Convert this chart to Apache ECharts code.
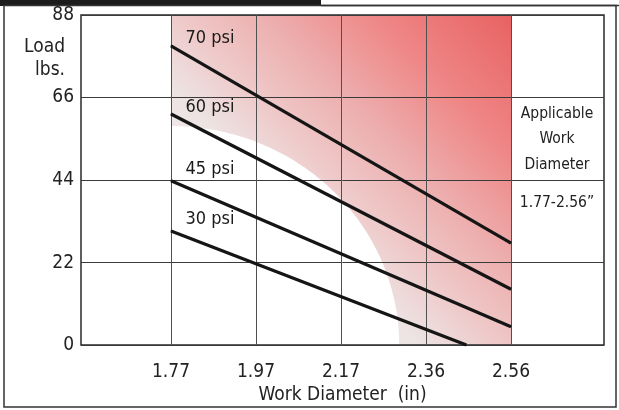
<!DOCTYPE html>
<html>
<head>
<meta charset="utf-8">
<script src="https://cdn.jsdelivr.net/npm/echarts@6/dist/echarts.min.js"></script>
<style>html,body{margin:0;padding:0;background:#fff}#c{width:619px;height:410px}</style>
</head>
<body>
<div id="c"></div>
<script>
// ---- data ----
const diameterTicks = [1.77, 1.97, 2.17, 2.36, 2.56];
const diameterTickLabels = ['1.77', '1.97', '2.17', '2.36', '2.56'];
const loadTicks = [0, 22, 44, 66, 88];
const pressureNames = ['70 psi', '60 psi', '45 psi', '30 psi'];
const psi70 = [[1.77, 79.8], [2.56, 27.2]];
const psi60 = [[1.77, 61.6], [2.56, 14.9]];
const psi45 = [[1.77, 43.8], [2.56, 4.9]];
const psi30 = [[1.77, 30.4], [2.455, 0]];
const applicableRange = [1.77, 2.56];
const lowLoadZone = [2.30, 58.4]; // diameter reach, load reach of the unshaded zone
const noteLines = ['Applicable', 'Work', 'Diameter'];
const noteRange = '1.77-2.56\u201D';
const xName = 'Work Diameter  (in)';
const yName = 'Load\nlbs.';

// ---- helpers ----
// tick labels are evenly spaced on the original chart: map diameter -> tick position
function toAxis(d) {
  const t = diameterTicks;
  for (let i = 0; i < t.length - 1; i++) {
    if (d <= t[i + 1] || i === t.length - 2) {
      return i + (d - t[i]) / (t[i + 1] - t[i]);
    }
  }
  return 0;
}
const FONT = "'Liberation Sans Narrow', 'DejaVu Sans Condensed', 'Roboto', sans-serif";
const series = [psi70, psi60, psi45, psi30];
const labelDy = [-7, -6, -11, -11];

const chart = echarts.init(document.getElementById('c'), null, { renderer: 'canvas' });

const lineSeries = series.map((pts, k) => ({
  type: 'line',
  z: 3,
  symbol: 'circle',
  symbolSize: 1,
  showSymbol: true,
  silent: true,
  animation: false,
  itemStyle: { color: '#151515' },
  lineStyle: { color: '#151515', width: 3.2 },
  data: pts.map((p, i) => {
    const item = { value: [toAxis(p[0]), p[1]] };
    if (i === 0) {
      item.label = {
        show: true, formatter: pressureNames[k], position: [15, labelDy[k]],
        align: 'left', verticalAlign: 'middle', fontFamily: FONT, fontSize: 18, color: '#1a1a1a'
      };
    }
    return item;
  })
}));

const zoneSeries = {
  type: 'custom',
  z: -1,
  silent: true,
  animation: false,
  data: [[0]],
  renderItem: function (params, api) {
    const tl = api.coord([toAxis(applicableRange[0]), loadTicks[loadTicks.length - 1]]);
    const br = api.coord([toAxis(applicableRange[1]), 0]);
    const c = api.coord([toAxis(applicableRange[0]), 0]);
    const e = api.coord([toAxis(lowLoadZone[0]), lowLoadZone[1]]);
    const rx = e[0] - c[0], ry = c[1] - e[1];
    const pts = [[c[0], c[1]]];
    for (let i = 0; i <= 80; i++) {
      const t = i / 80 * Math.PI / 2;
      pts.push([c[0] + rx * Math.cos(t), c[1] - ry * Math.sin(t)]);
    }
    return {
      type: 'group',
      children: [
        {
          type: 'rect',
          shape: { x: tl[0], y: tl[1], width: br[0] - tl[0], height: br[1] - tl[1] },
          style: {
            fill: new echarts.graphic.LinearGradient(0, 1, 1, 0, [
              { offset: 0, color: '#f6f6f6' },
              { offset: 0.38, color: '#ede3e3' },
              { offset: 0.5, color: '#efc8c8' },
              { offset: 0.62, color: '#edb0b0' },
              { offset: 0.8, color: '#ef8585' },
              { offset: 1, color: '#e86262' }
            ])
          }
        },
        { type: 'polygon', shape: { points: pts }, style: { fill: '#ffffff' } }
      ]
    };
  }
};

const tickPos = diameterTicks.map(toAxis);

chart.setOption({
  animation: false,
  grid: {
    left: 81, top: 15, right: 15, bottom: 62,
    show: true, borderColor: '#2a2a2a', borderWidth: 1.5, backgroundColor: 'transparent'
  },
  xAxis: {
    type: 'value',
    min: (81 - 171) / 85,
    max: (604 - 171) / 85,
    axisLine: { show: false },
    axisTick: { show: false, customValues: tickPos },
    axisLabel: {
      customValues: tickPos,
      formatter: v => diameterTickLabels[Math.round(v)],
      fontFamily: FONT, fontSize: 19, color: '#222', margin: 17
    },
    splitLine: { show: true, lineStyle: { color: '#505050', width: 1 } },
    name: xName,
    nameLocation: 'middle',
    nameGap: 39,
    nameTextStyle: { fontFamily: FONT, fontSize: 19, color: '#222' }
  },
  yAxis: {
    type: 'value',
    min: 0, max: 88, interval: 22,
    axisLine: { show: false },
    axisTick: { show: false },
    axisLabel: { fontFamily: FONT, fontSize: 19, color: '#222', margin: 7 },
    splitLine: { show: true, lineStyle: { color: '#3a3a3a', width: 1 } }
  },
  graphic: [
    { type: 'rect', silent: true, shape: { x: 0, y: 0, width: 321, height: 6 }, style: { fill: '#1c1c1c' }, z: 10 },
    { type: 'line', silent: true, shape: { x1: 321, y1: 5.5, x2: 619, y2: 5.5 }, style: { stroke: '#333', lineWidth: 1.5 }, z: 10 },
    { type: 'rect', silent: true, shape: { x: 4, y: 5.5, width: 612, height: 401.5 }, style: { fill: 'none', stroke: '#333', lineWidth: 1.5 }, z: 10 },
    { type: 'text', silent: true, x: 65, y: 36, style: { text: yName, align: 'right', verticalAlign: 'top', fontFamily: FONT, fontSize: 19, lineHeight: 23, fill: '#222' }, z: 10 },
    { type: 'text', silent: true, x: 557, y: 101, style: { text: noteLines.join('\n'), align: 'center', verticalAlign: 'top', fontFamily: FONT, fontSize: 15.5, lineHeight: 25.5, fill: '#222' }, z: 10 },
    { type: 'text', silent: true, x: 557, y: 203, style: { text: noteRange, align: 'center', verticalAlign: 'middle', fontFamily: FONT, fontSize: 15.5, fill: '#222' }, z: 10 }
  ],
  series: [zoneSeries].concat(lineSeries)
});
</script>
</body>
</html>
